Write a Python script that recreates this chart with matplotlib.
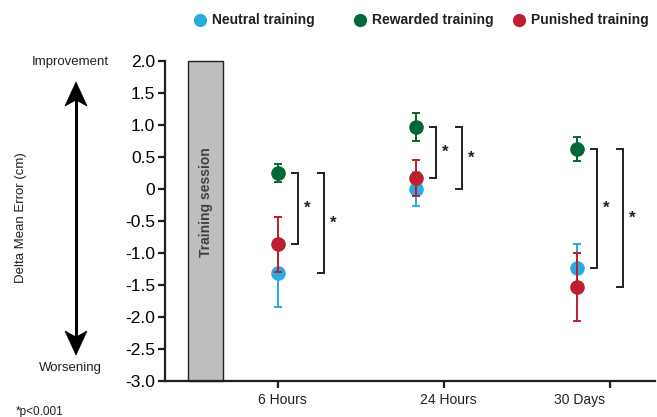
import matplotlib
matplotlib.use("Agg")
import matplotlib.pyplot as plt
from matplotlib.patches import Polygon, Rectangle
from matplotlib.lines import Line2D

plt.rcParams['font.family'] = ['Liberation Sans', 'DejaVu Sans']

# ---- data ----
time_labels = ['6 Hours', '24 Hours', '30 Days']
group_x = [1.0, 1.831, 2.801]          # marker positions
tick_x = [1.0, 2.0, 3.0]               # axis tick positions
label_x = [1.024, 2.024, 2.819]        # tick label centres

neutral_mean = [-1.31, 0.00, -1.23]
neutral_err = [0.53, 0.27, 0.37]
rewarded_mean = [0.25, 0.97, 0.63]
rewarded_err = [0.14, 0.22, 0.19]
punished_mean = [-0.86, 0.17, -1.53]
punished_err = [0.43, 0.28, 0.53]

series_names = ['Neutral training', 'Rewarded training', 'Punished training']
series_colors = ['#29ABE2', '#006837', '#BE1E2D']

ytick_vals = [2.0, 1.5, 1.0, 0.5, 0.0, -0.5, -1.0, -1.5, -2.0, -2.5, -3.0]
ytick_labels = ['2.0', '1.5', '1.0', '0.5', '0', '-0.5', '-1.0', '-1.5', '-2.0', '-2.5', '-3.0']

# significance brackets: (group index, top value, bottom value, level)
brackets = [
    (0, rewarded_mean[0], punished_mean[0], 0),
    (0, rewarded_mean[0], neutral_mean[0], 1),
    (1, rewarded_mean[1], punished_mean[1], 0),
    (1, rewarded_mean[1], neutral_mean[1], 1),
    (2, rewarded_mean[2], neutral_mean[2], 0),
    (2, rewarded_mean[2], punished_mean[2], 1),
]

W, H = 657, 417
fig = plt.figure(figsize=(W / 100, H / 100), dpi=100)

def fx(px):
    return px / W

def fy(py):
    return 1 - py / H

ax = fig.add_axes([fx(165), fy(381), (655 - 165) / W, (381 - 61) / H])
ax.set_ylim(-3, 2)
ax.set_xlim(0.3193, 3.271)
for s in ['top', 'right']:
    ax.spines[s].set_visible(False)
for s in ['left', 'bottom']:
    ax.spines[s].set_linewidth(1.6)
    ax.spines[s].set_color('#231F20')

ax.set_yticks(ytick_vals)
ax.set_yticklabels(ytick_labels, fontsize=12.5)
ax.set_xticks(tick_x)
ax.set_xticklabels([''] * len(tick_x))
ax.tick_params(axis='both', direction='out', length=5, width=1.6, color='#231F20', pad=2)
for lx, lab in zip(label_x, time_labels):
    ax.text(lx, -0.06, lab, transform=ax.get_xaxis_transform(), ha='center', va='center',
            fontsize=10, color='#231F20')

# training session shaded block
rect = Rectangle((0.458, -3), 0.669 - 0.458, 5, facecolor='#BCBEC0', edgecolor='#231F20',
                 linewidth=1.0, zorder=1, clip_on=False)
ax.add_patch(rect)
ax.text((0.458 + 0.669) / 2, -0.2, 'Training session', rotation=90, ha='center', va='center',
        fontsize=10, fontweight='bold', color='#414042', zorder=2)

# data series
means = [neutral_mean, rewarded_mean, punished_mean]
errs = [neutral_err, rewarded_err, punished_err]
for i, (m, e, c) in enumerate(zip(means, errs, series_colors)):
    ax.errorbar(group_x, m, yerr=e, fmt='o', color=c, ms=9.5, capsize=3.2,
                elinewidth=1.4, capthick=1.4, zorder=3 + i)

# brackets
bx = [(0.085, 0.118), (0.24, 0.275)]
sx = [0.178, 0.33]
for g, top, bot, lvl in brackets:
    x0 = group_x[g] + bx[lvl][0]
    x1 = group_x[g] + bx[lvl][1]
    ax.plot([x0, x1, x1, x0], [top, top, bot, bot], color='#231F20', lw=1.4,
            solid_joinstyle='miter', zorder=2)
    ax.text(group_x[g] + sx[lvl], (top + bot) / 2, '*', ha='center', va='center',
            fontsize=12, fontweight='bold', color='#231F20')

# left annotations
fig.text(fx(70), fy(62), 'Improvement', ha='center', va='center', fontsize=9.5, color='#231F20')
fig.text(fx(70), fy(368), 'Worsening', ha='center', va='center', fontsize=9.5, color='#231F20')
fig.text(fx(21), fy(218), 'Delta Mean Error (cm)', rotation=90, ha='center', va='center',
         fontsize=9.5, color='#231F20')
fig.text(fx(16), fy(412), '*p<0.001', ha='left', va='center', fontsize=8.5, color='#231F20')

# double arrow
ax_x = 76
fig.add_artist(Line2D([fx(ax_x), fx(ax_x)], [fy(100), fy(337)], color='black', lw=2.2,
                      transform=fig.transFigure))
top_head = [(ax_x, 82), (ax_x - 11, 106), (ax_x, 100), (ax_x + 11, 106)]
bot_head = [(ax_x, 355), (ax_x - 11, 331), (ax_x, 337), (ax_x + 11, 331)]
for hd in (top_head, bot_head):
    fig.add_artist(Polygon([(fx(a), fy(b)) for a, b in hd], closed=True, facecolor='black',
                           edgecolor='black', lw=0.5, transform=fig.transFigure))

# legend (manual)
leg_circle_x = [200, 360, 519]
for cx, name, c in zip(leg_circle_x, series_names, series_colors):
    fig.add_artist(Line2D([fx(cx)], [fy(20)], marker='o', ms=8.5, color=c, lw=0,
                          transform=fig.transFigure))
    fig.text(fx(cx + 12), fy(20), name, ha='left', va='center', fontsize=10,
             fontweight='bold', color='#231F20')

fig.savefig('out.png', dpi=100)
